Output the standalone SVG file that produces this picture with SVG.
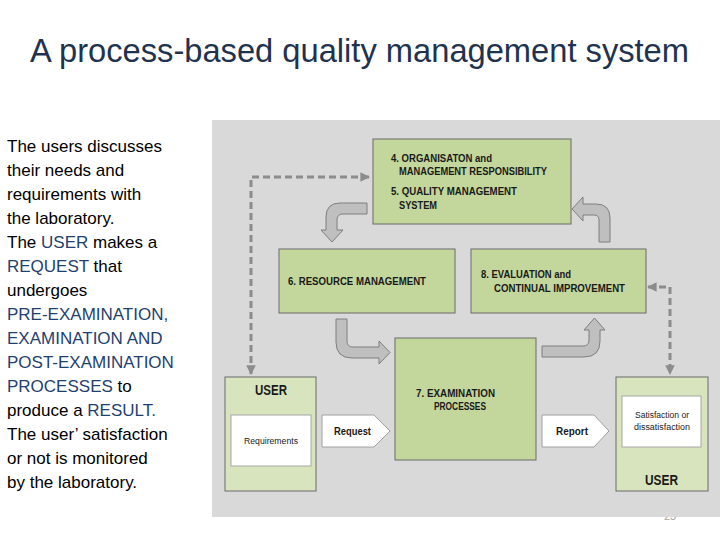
<svg xmlns="http://www.w3.org/2000/svg" width="720" height="540" viewBox="0 0 720 540">
<defs>
<style>
.title{font-family:"Liberation Sans",Arial,sans-serif;font-size:34px;fill:#1f3350}
.body{font-family:"Liberation Sans",Arial,sans-serif;font-size:17px;fill:#000}
.hl{fill:#1f4170}
.box{fill:#c3d69b;stroke:#6b6b6b;stroke-width:1}
.ubox{fill:#d7e4bd;stroke:#6b6b6b;stroke-width:1}
.wbox{fill:#fff;stroke:#a6a6a6;stroke-width:1}
.lbl{font-family:"Liberation Sans",Arial,sans-serif;font-weight:bold;font-size:10.5px;fill:#1a1a1a}
.user{font-family:"Liberation Sans",Arial,sans-serif;font-weight:bold;font-size:14px;fill:#1a1a1a}
.sm{font-family:"Liberation Sans",Arial,sans-serif;font-size:8.5px;fill:#1a1a1a}
.blk{fill:#bfbfbf;stroke:#7f7f7f;stroke-width:1}
.dash{fill:none;stroke:#8c8c8c;stroke-width:3;stroke-dasharray:7 4}
</style>
<marker id="ah" viewBox="0 0 10 10" refX="9" refY="5" markerWidth="3.2" markerHeight="3.2" orient="auto-start-reverse" markerUnits="strokeWidth">
<path d="M0,0 L10,5 L0,10 Z" fill="#8c8c8c"/>
</marker>
</defs>
<rect width="720" height="540" fill="#fff"/>
<text class="title" x="30" y="62" textLength="659" lengthAdjust="spacingAndGlyphs">A process-based quality management system</text>
<g id="description">
<text class="body" x="7" y="152">The users discusses</text>
<text class="body" x="7" y="176">their needs and</text>
<text class="body" x="7" y="200">requirements with</text>
<text class="body" x="7" y="224">the laboratory.</text>
<text class="body" x="7" y="248">The  <tspan class="hl">USER</tspan> makes a</text>
<text class="body" x="7" y="272"><tspan class="hl">REQUEST</tspan> that</text>
<text class="body" x="7" y="296">undergoes</text>
<text class="body hl" x="7" y="320">PRE-EXAMINATION,</text>
<text class="body hl" x="7" y="344">EXAMINATION AND</text>
<text class="body hl" x="7" y="368">POST-EXAMINATION</text>
<text class="body" x="7" y="392"><tspan class="hl">PROCESSES</tspan> to</text>
<text class="body" x="7" y="416">produce a <tspan class="hl">RESULT.</tspan></text>
<text class="body" x="7" y="440">The user’ satisfaction</text>
<text class="body" x="7" y="464">or not is monitored</text>
<text class="body" x="7" y="488">by the laboratory.</text>
</g>
<text x="664" y="520" font-family="Liberation Sans,Arial,sans-serif" font-size="11" fill="#a6a6a6">23</text>
<rect x="212" y="120" width="508" height="397" fill="#d9d9d9"/>
<g id="connectors">
<path class="dash" d="M369,177 L251,177 L251,374" marker-start="url(#ah)" marker-end="url(#ah)"/>
<path class="dash" d="M648,287 L670,287 L670,374" marker-start="url(#ah)" marker-end="url(#ah)"/>
<path class="blk" d="M367,203 L340,203 Q326,203 326,217 L326,230 L321,230 L332,242 L343,230 L337,230 L337,220 Q337,214 343,214 L367,214 Z"/>
<path class="blk" d="M599,242 L599,220 Q599,215 594,215 L583,215 L583,221 L572,209 L583,197 L583,204 L596,204 Q610,204 610,218 L610,242 Z"/>
<path class="blk" d="M336,319 L347,319 L347,341 Q347,347 353,347 L379,347 L379,341 L390,352.5 L379,364 L379,358 L352,358 Q336,358 336,342 Z"/>
<path class="blk" d="M542,346 L583,346 Q589,346 589,340 L589,330 L584,330 L594.5,318 L605,330 L600,330 L600,341 Q600,357 584,357 L542,357 Z"/>
<path d="M322,415 L374,415 L390,431 L374,447 L322,447 Z" fill="#fff" stroke="#a0a0a0"/>
<text class="lbl" x="334" y="435" textLength="37" lengthAdjust="spacingAndGlyphs">Request</text>
<path d="M542,415 L594,415 L609,431 L594,447 L542,447 Z" fill="#fff" stroke="#a0a0a0"/>
<text class="lbl" x="556" y="435" textLength="32" lengthAdjust="spacingAndGlyphs">Report</text>
</g>
<g id="box-4-5">
<rect class="box" x="373" y="139" width="198" height="85"/>
<text class="lbl" x="391" y="162" textLength="101" lengthAdjust="spacingAndGlyphs">4. ORGANISATON  and</text>
<text class="lbl" x="399" y="175" textLength="148" lengthAdjust="spacingAndGlyphs">MANAGEMENT RESPONSIBILITY</text>
<text class="lbl" x="391" y="195" textLength="126" lengthAdjust="spacingAndGlyphs">5. QUALITY MANAGEMENT</text>
<text class="lbl" x="399" y="209" textLength="38" lengthAdjust="spacingAndGlyphs">SYSTEM</text>
</g>
<g id="box-6">
<rect class="box" x="279" y="249" width="176" height="64"/>
<text class="lbl" x="288" y="285" textLength="138" lengthAdjust="spacingAndGlyphs">6. RESOURCE  MANAGEMENT</text>
</g>
<g id="box-8">
<rect class="box" x="471" y="249" width="175" height="64"/>
<text class="lbl" x="481" y="278" textLength="90" lengthAdjust="spacingAndGlyphs">8. EVALUATION and</text>
<text class="lbl" x="494" y="292" textLength="131" lengthAdjust="spacingAndGlyphs">CONTINUAL IMPROVEMENT</text>
</g>
<g id="box-7">
<rect class="box" x="395" y="338" width="141" height="122"/>
<text class="lbl" x="416" y="397" textLength="79" lengthAdjust="spacingAndGlyphs">7. EXAMINATION</text>
<text class="lbl" x="434" y="410" textLength="52" lengthAdjust="spacingAndGlyphs">PROCESSES</text>
</g>
<g id="user-left">
<rect class="ubox" x="225" y="377" width="91" height="114"/>
<text class="user" x="255" y="395" textLength="32" lengthAdjust="spacingAndGlyphs">USER</text>
<rect class="wbox" x="231" y="415" width="80" height="51"/>
<text class="sm" x="244" y="444" textLength="54" lengthAdjust="spacingAndGlyphs">Requirements</text>
</g>
<g id="user-right">
<rect class="ubox" x="616" y="377" width="92" height="114"/>
<rect class="wbox" x="622" y="396" width="79" height="51"/>
<text class="sm" x="635" y="418" textLength="54" lengthAdjust="spacingAndGlyphs">Satisfaction or</text>
<text class="sm" x="634" y="430" textLength="56" lengthAdjust="spacingAndGlyphs">dissatisfaction</text>
<text class="user" x="645" y="485" textLength="33" lengthAdjust="spacingAndGlyphs">USER</text>
</g>
</svg>
